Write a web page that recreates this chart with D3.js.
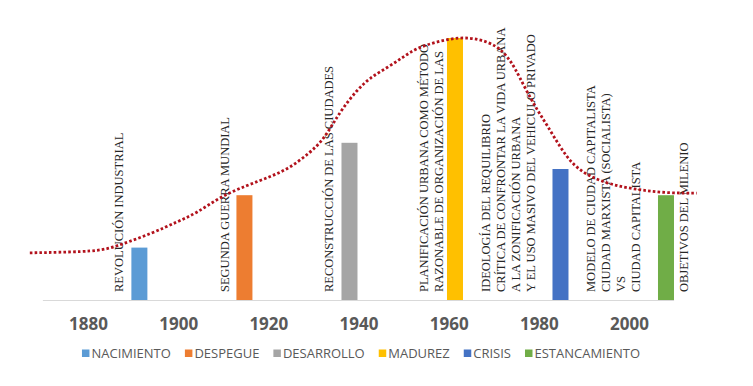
<!DOCTYPE html>
<html>
<head>
<meta charset="utf-8">
<script src="https://cdn.jsdelivr.net/npm/d3@7"></script>
<style>
  html, body { margin: 0; padding: 0; background: #fff; }
  svg { display: block; }
</style>
</head>
<body>
<svg id="chart" width="753" height="386"></svg>
<script>
// ---- data ----
const categories = ["NACIMIENTO", "DESPEGUE", "DESARROLLO", "MADUREZ", "CRISIS", "ESTANCAMIENTO"];
const barYears  = [1891.4, 1914.7, 1938.0, 1961.4, 1984.8, 2008.2];
const barValues = [1, 2, 3, 5, 2.5, 2];
const barColors = ["#5B9BD5", "#ED7D31", "#A5A5A5", "#FFC000", "#4472C4", "#70AD47"];
const tickYears = [1880, 1900, 1920, 1940, 1960, 1980, 2000];

const trendYears  = [1867.1, 1879.8, 1884.2, 1887.1, 1894.4, 1899.7, 1904.2, 1909.3, 1915.3, 1920.4,
                     1924.8, 1929.2, 1932.1, 1934.3, 1936.5, 1939.6, 1942.5, 1946.3, 1949.8, 1952.9,
                     1957.4, 1962.5, 1966.9, 1970.7, 1972.9, 1974.7, 1976.9, 1979.6, 1981.8, 1984.7,
                     1987.5, 1991.3, 1996.4, 2002.4, 2008.4, 2015.0];
const trendValues = [0.90, 0.92, 0.97, 1.05, 1.28, 1.49, 1.66, 1.97, 2.19, 2.35,
                     2.52, 2.81, 3.05, 3.36, 3.66, 4.00, 4.24, 4.43, 4.63, 4.81,
                     4.93, 5.02, 4.98, 4.85, 4.66, 4.43, 4.05, 3.63, 3.34, 2.92,
                     2.58, 2.35, 2.19, 2.10, 2.04, 2.04];

const annotationLines = [
  ["REVOLUCIÓN INDUSTRIAL"],
  ["SEGUNDA GUERRA MUNDIAL"],
  ["RECONSTRUCCIÓN DE LAS CIUDADES"],
  ["PLANIFICACIÓN URBANA COMO MÉTODO", "RAZONABLE DE ORGANIZACIÓN DE LAS"],
  ["IDEOLOGÍA DEL REQUILIBRIO", "CRÍTICA DE CONFRONTAR LA VIDA URBANA", "A LA ZONIFICACIÓN URBANA", "Y EL USO MASIVO DEL VEHICULO PRIVADO"],
  ["MODELO DE CIUDAD CAPITALISTA", "CIUDAD MARXISTA (SOCIALISTA)", "VS", "CIUDAD CAPITALISTA"],
  ["OBJETIVOS DEL MILENIO"]
];
const annotationBar = [0, 1, 2, 3, 4, 5, 5];

// ---- layout ----
const annotationDx = [-16, -15.5, -16.5, -12, -25.5, -26, 22]; // last line baseline offset from bar centre
const lineGap = 15;

const svg = d3.select("#chart");
const x = d3.scaleLinear().domain([1870, 2010]).range([42.9, 674.1]);
const y = d3.scaleLinear().domain([0, 5]).range([300, 38]);
const barW = 16;

// baseline
svg.append("line")
  .attr("x1", x(1870)).attr("x2", x(2010))
  .attr("y1", y(0) + 0.5).attr("y2", y(0) + 0.5)
  .attr("stroke", "#d9d9d9").attr("stroke-width", 1);

// bars
svg.append("g").selectAll("rect")
  .data(categories)
  .join("rect")
  .attr("x", (d, i) => x(barYears[i]) - barW / 2)
  .attr("width", barW)
  .attr("y", (d, i) => y(barValues[i]))
  .attr("height", (d, i) => y(0) - y(barValues[i]))
  .attr("fill", (d, i) => barColors[i]);

// annotations (rotated)
const ann = svg.append("g")
  .attr("font-family", "'Liberation Serif', 'Times New Roman', serif")
  .attr("font-size", 12.5)
  .attr("fill", "#262626");
annotationLines.forEach((lines, k) => {
  const bx = x(barYears[annotationBar[k]]);
  const lastX = bx + annotationDx[k];
  lines.forEach((t, j) => {
    const lx = lastX - (lines.length - 1 - j) * lineGap;
    ann.append("text")
      .attr("transform", `translate(${lx},292) rotate(-90)`)
      .attr("text-anchor", "start")
      .text(t);
  });
});

// trendline
const trend = trendYears.map((yr, i) => [yr, trendValues[i]]);
svg.append("path")
  .datum(trend)
  .attr("fill", "none")
  .attr("stroke", "#B2121C")
  .attr("stroke-width", 2.8)
  .attr("stroke-dasharray", "2.6,2.2")
  .attr("d", d3.line().x(d => x(d[0])).y(d => y(d[1])).curve(d3.curveBasis));

// x axis tick labels
const axis = d3.axisBottom(x).tickValues(tickYears).tickFormat(d3.format("d")).tickSize(0).tickPadding(0);
const ag = svg.append("g").attr("transform", "translate(0,318)").call(axis);
ag.select(".domain").remove();
ag.selectAll("text")
  .attr("font-family", "'Open Sans', sans-serif")
  .attr("font-weight", 700)
  .attr("font-size", 17)
  .attr("fill", "#595959");

// legend
const legend = svg.append("g");
const items = legend.selectAll("g").data(categories).join("g");
items.append("rect").attr("width", 7.5).attr("height", 7.5).attr("y", -8.5)
  .attr("fill", (d, i) => barColors[i]);
items.append("text").attr("x", 9.5).attr("y", 0)
  .attr("font-family", "'Open Sans', sans-serif")
  .attr("font-size", 13)
  .attr("fill", "#595959")
  .text(d => d);
const widths = [];
items.each(function() { widths.push(this.getBBox().width); });
const gap = 14;
const total = widths.reduce((a, b) => a + b, 0) + gap * (widths.length - 1);
let start = 361 - total / 2;
items.attr("transform", (d, i) => {
  const tx = start;
  start += widths[i] + gap;
  return `translate(${tx},358)`;
});
</script>
</body>
</html>
